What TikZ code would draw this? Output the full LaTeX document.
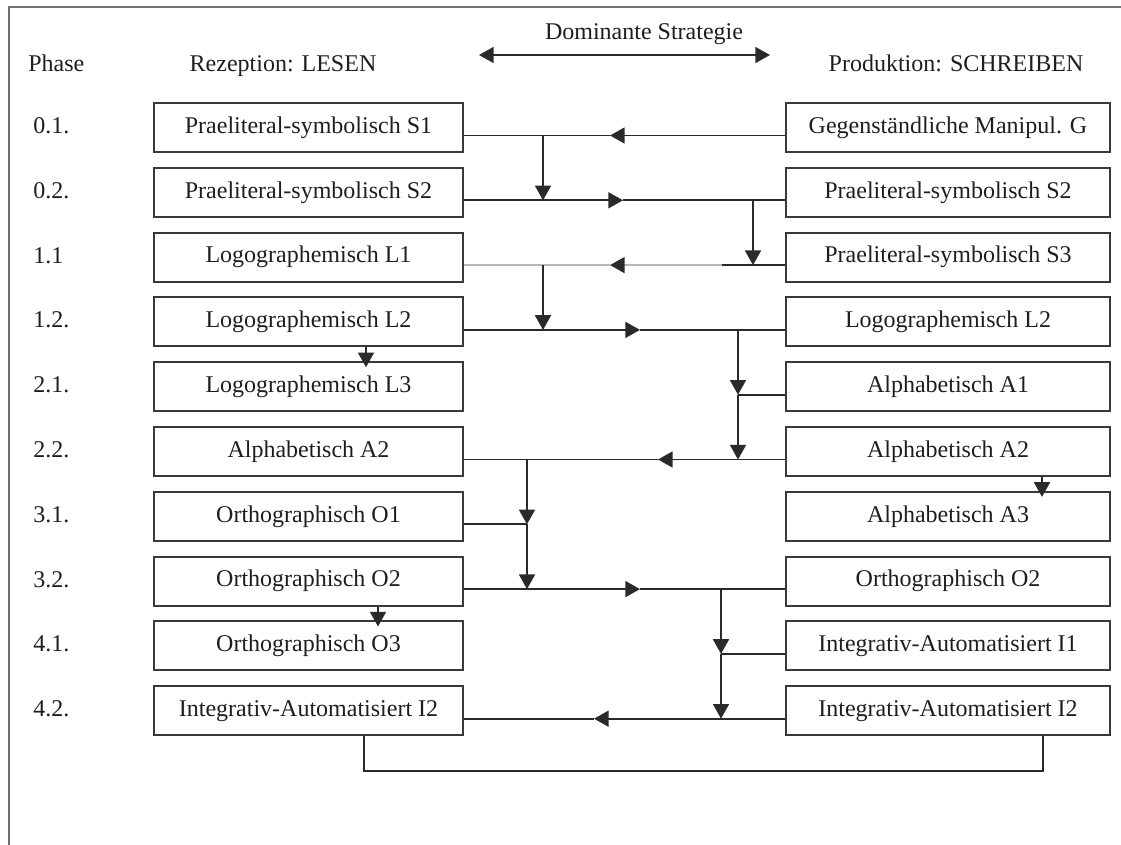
\documentclass[tikz,border=0pt]{standalone}
\usepackage{fontspec}
\setmainfont{Liberation Serif}
\usetikzlibrary{arrows.meta,calc}
\definecolor{lc}{HTML}{2A2A2A}
\definecolor{bx}{HTML}{3A3A3A}
\definecolor{lg}{HTML}{B8B8B8}
\definecolor{tx}{HTML}{1E1E1E}
\definecolor{fr}{HTML}{707070}
\begin{document}
\begin{tikzpicture}[x=0.75pt,y=-0.75pt,
  lbox/.style={draw=bx,line width=1.4pt,minimum width=231.75pt,minimum height=36.75pt,inner sep=0pt,font=\fontsize{18}{21}\selectfont,text=tx},
  rbox/.style={lbox,minimum width=243pt},
  ln/.style={draw=lc,line width=1.3pt},
  arr/.style={ln,-{Triangle[length=11pt,width=12pt]}},
  lbl/.style={font=\fontsize{18}{21}\selectfont,text=tx,inner sep=0pt}]
\useasboundingbox (0,0) rectangle (1121,845);
% frame
\draw[draw=fr,line width=1.5pt] (9,845) -- (9,7) -- (1121,7);
% header
\node[lbl,anchor=base west] (ph) at (28,72) {Phase};
\node[lbl,anchor=base] (rez) at (283,72) {Rezeption: LESEN};
\node[lbl,anchor=base] (dom) at (644,40) {Dominante Strategie};
\node[lbl,anchor=base] (prod) at (956,72) {Produktion: SCHREIBEN};
\coordinate (dl) at (479,55);
\coordinate (dr) at (770,55);
\draw[ln,{Triangle[length=11pt,width=12pt]}-{Triangle[length=11pt,width=12pt]}] (dl) -- (dr);
% phase labels
\node[lbl,anchor=base west] (p1) at (33,133.5) {0.1.};
\node[lbl,anchor=base west] (p2) at (33,198.3) {0.2.};
\node[lbl,anchor=base west] (p3) at (33,263.1) {1.1};
\node[lbl,anchor=base west] (p4) at (33,327.9) {1.2.};
\node[lbl,anchor=base west] (p5) at (33,392.7) {2.1.};
\node[lbl,anchor=base west] (p6) at (33,457.5) {2.2.};
\node[lbl,anchor=base west] (p7) at (33,522.3) {3.1.};
\node[lbl,anchor=base west] (p8) at (33,587.1) {3.2.};
\node[lbl,anchor=base west] (p9) at (33,651.9) {4.1.};
\node[lbl,anchor=base west] (p10) at (33,716.7) {4.2.};
% left boxes
\node[lbox] (S1l) at (308.5,127.5) {Praeliteral-symbolisch S1};
\node[lbox] (S2l) at (308.5,192.3) {Praeliteral-symbolisch S2};
\node[lbox] (L1l) at (308.5,257.1) {Logographemisch L1};
\node[lbox] (L2l) at (308.5,321.9) {Logographemisch L2};
\node[lbox] (L3l) at (308.5,386.7) {Logographemisch L3};
\node[lbox] (A2l) at (308.5,451.5) {Alphabetisch A2};
\node[lbox] (O1l) at (308.5,516.3) {Orthographisch O1};
\node[lbox] (O2l) at (308.5,581.1) {Orthographisch O2};
\node[lbox] (O3l) at (308.5,645.9) {Orthographisch O3};
\node[lbox] (I2l) at (308.5,710.7) {Integrativ-Automatisiert I2};
% right boxes
\node[rbox] (Gr) at (948,127.5) {Gegenständliche Manipul. G};
\node[rbox] (S2r) at (948,192.3) {Praeliteral-symbolisch S2};
\node[rbox] (S3r) at (948,257.1) {Praeliteral-symbolisch S3};
\node[rbox] (L2r) at (948,321.9) {Logographemisch L2};
\node[rbox] (A1r) at (948,386.7) {Alphabetisch A1};
\node[rbox] (A2r) at (948,451.5) {Alphabetisch A2};
\node[rbox] (A3r) at (948,516.3) {Alphabetisch A3};
\node[rbox] (O2r) at (948,581.1) {Orthographisch O2};
\node[rbox] (I1r) at (948,645.9) {Integrativ-Automatisiert I1};
\node[rbox] (I2r) at (948,710.7) {Integrativ-Automatisiert I2};
% connector levels
\coordinate (y1) at ([yshift=-6pt]S1l.east);
\coordinate (y2) at ([yshift=-6pt]S2l.east);
\coordinate (y3) at ([yshift=-6pt]L1l.east);
\coordinate (y4) at ([yshift=-6pt]L2l.east);
\coordinate (y5) at ([yshift=-6pt]L3l.east);
\coordinate (y6) at ([yshift=-6pt]A2l.east);
\coordinate (y7) at ([yshift=-6pt]O1l.east);
\coordinate (y8) at ([yshift=-6pt]O2l.east);
\coordinate (y9) at ([yshift=-6pt]O3l.east);
\coordinate (y10) at ([yshift=-6pt]I2l.east);
% row 1: G -> S1
\draw[arr] (Gr.west |- y1) -- (y1 -| 610,0);
\draw[ln] (y1 -| 610,0) -- (y1);
\draw[arr] (y1 -| 543,0) -- (y2 -| 543,0);
% row 2: S2 -> S2
\draw[arr] (y2) -- (y2 -| 623,0);
\draw[ln] (y2 -| 623,0) -- (S2r.west |- y2);
\draw[arr] (y2 -| 753,0) -- (y3 -| 753,0);
% row 3: S3 -> L1
\draw[ln] (S3r.west |- y3) -- (y3 -| 722,0);
\draw[ln,draw=lg,-{Triangle[length=11pt,width=12pt,color=lc]}] (y3 -| 722,0) -- (y3 -| 610,0);
\draw[ln,draw=lg] (y3 -| 610,0) -- (y3);
\draw[arr] (y3 -| 543,0) -- (y4 -| 543,0);
% row 4: L2 -> L2
\draw[arr] (y4) -- (y4 -| 640,0);
\draw[ln] (y4 -| 640,0) -- (L2r.west |- y4);
\draw[arr] (y4 -| 738,0) -- (y5 -| 738,0);
\draw[ln] (A1r.west |- y5) -- (y5 -| 738,0);
\draw[arr] (y5 -| 738,0) -- (y6 -| 738,0);
\draw[arr] (L2l.south -| 366,0) -- ([yshift=-4.5pt]L3l.north -| 366,0);
% row 6: A2 -> A2
\draw[arr] (A2r.west |- y6) -- (y6 -| 658,0);
\draw[ln] (y6 -| 658,0) -- (y6);
\draw[arr] (y6 -| 527,0) -- (y7 -| 527,0);
\draw[ln] (y7) -- (y7 -| 527,0);
\draw[arr] (y7 -| 527,0) -- (y8 -| 527,0);
\draw[arr] (A2r.south -| 1042,0) -- ([yshift=-4.5pt]A3r.north -| 1042,0);
% row 8: O2 -> O2
\draw[arr] (y8) -- (y8 -| 640,0);
\draw[ln] (y8 -| 640,0) -- (O2r.west |- y8);
\draw[arr] (y8 -| 721,0) -- (y9 -| 721,0);
\draw[ln] (I1r.west |- y9) -- (y9 -| 721,0);
\draw[arr] (y9 -| 721,0) -- (y10 -| 721,0);
\draw[arr] (O2l.south -| 378,0) -- ([yshift=-4.5pt]O3l.north -| 378,0);
% row 10: I2 -> I2
\draw[arr] (I2r.west |- y10) -- (y10 -| 594,0);
\draw[ln] (y10 -| 594,0) -- (y10);
% bottom loop
\coordinate (bl) at (364,771);
\coordinate (br) at (1043,771);
\draw[ln] (I2l.south -| bl) -- (bl) -- (br) -- (I2r.south -| br);
\end{tikzpicture}
\end{document}
